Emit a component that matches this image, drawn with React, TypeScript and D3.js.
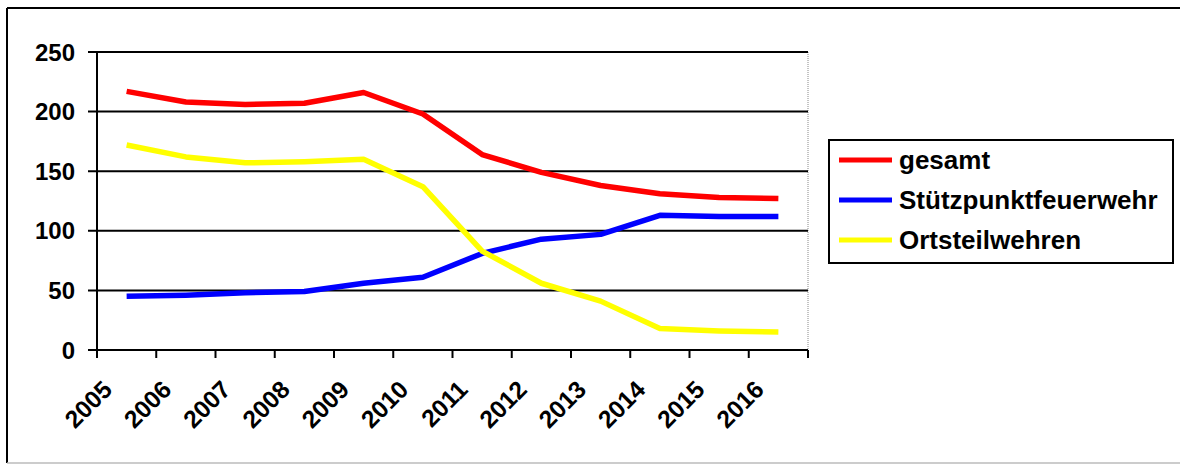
import React from 'react';
import * as d3 from 'd3';

const years = ['2005', '2006', '2007', '2008', '2009', '2010', '2011', '2012', '2013', '2014', '2015', '2016'];
const gesamt = [217, 208, 206, 207, 216, 198, 164, 149, 138, 131, 128, 127];
const stuetzpunkt = [45, 46, 48, 49, 56, 61, 81, 93, 97, 113, 112, 112];
const ortsteil = [172, 162, 157, 158, 160, 137, 83, 56, 41, 18, 16, 15];
const yTicks = [0, 50, 100, 150, 200, 250];

const seriesNames = ['gesamt', 'Stützpunktfeuerwehr', 'Ortsteilwehren'];
const seriesColors = ['#FF0000', '#0000FF', '#FFFF00'];

const W = 1180;
const H = 465;
const plot = { left: 97, right: 808, top: 52, bottom: 350 };
const font = '"Liberation Sans", Arial, sans-serif';

const App = () => {
    const x = d3.scaleBand<string>()
        .domain(years)
        .range([plot.left, plot.right]);
    const y = d3.scaleLinear()
        .domain([0, 250])
        .range([plot.bottom, plot.top]);

    const line = d3.line<number>()
        .x((_, i) => (x(years[i]) as number) + x.bandwidth() / 2)
        .y(d => y(d));

    const series = [gesamt, stuetzpunkt, ortsteil];

    // tick positions at band boundaries
    const xTickPos = years.map(yr => x(yr) as number).concat([plot.right]);

    return (
        <svg width={W} height={H} style={{ position: 'absolute', left: 0, top: 0, background: '#fff' }}
            fontFamily={font} fontWeight="bold">
            {/* outer frame */}
            <line x1={7} y1={8} x2={W} y2={8} stroke="#000" strokeWidth={2} />
            <line x1={7} y1={8} x2={7} y2={463} stroke="#000" strokeWidth={2} />
            <line x1={7} y1={463} x2={W} y2={463} stroke="#bbb" strokeWidth={1.5} />

            {/* plot right border */}
            <line x1={plot.right} y1={plot.top} x2={plot.right} y2={plot.bottom}
                stroke="#888" strokeWidth={1} strokeDasharray="1,1" />

            {/* gridlines + y ticks */}
            {yTicks.map(t => (
                <g key={t}>
                    <line x1={plot.left - 9} x2={plot.right} y1={y(t)} y2={y(t)} stroke="#000" strokeWidth={2} />
                    <text x={75} y={y(t)} dy="0.36em" textAnchor="end" fontSize={24}>{t}</text>
                </g>
            ))}

            {/* y axis */}
            <line x1={plot.left} x2={plot.left} y1={plot.top} y2={plot.bottom + 8} stroke="#000" strokeWidth={2} />

            {/* x ticks */}
            {xTickPos.map((px, i) => (
                <line key={i} x1={px} x2={px} y1={plot.bottom} y2={plot.bottom + 8} stroke="#000" strokeWidth={2} />
            ))}

            {/* x labels */}
            {years.map(yr => {
                const cx = (x(yr) as number) + x.bandwidth() / 2;
                return (
                    <text key={yr} transform={`translate(${cx - 13},${plot.bottom + 41}) rotate(-45)`}
                        textAnchor="end" fontSize={24.5}>{yr}</text>
                );
            })}

            {/* lines */}
            {series.map((s, i) => (
                <path key={seriesNames[i]} d={line(s) as string} fill="none"
                    stroke={seriesColors[i]} strokeWidth={5.5} strokeLinejoin="round" />
            ))}

            {/* legend */}
            <rect x={829} y={140} width={344} height={123} fill="#fff" stroke="#000" strokeWidth={2} />
            {seriesNames.map((name, i) => {
                const ly = 160 + i * 40;
                return (
                    <g key={name}>
                        <line x1={839} x2={892} y1={ly} y2={ly} stroke={seriesColors[i]} strokeWidth={5} />
                        <text x={899} y={ly} dy="0.36em" fontSize={26}>{name}</text>
                    </g>
                );
            })}
        </svg>
    );
};

export default App;
